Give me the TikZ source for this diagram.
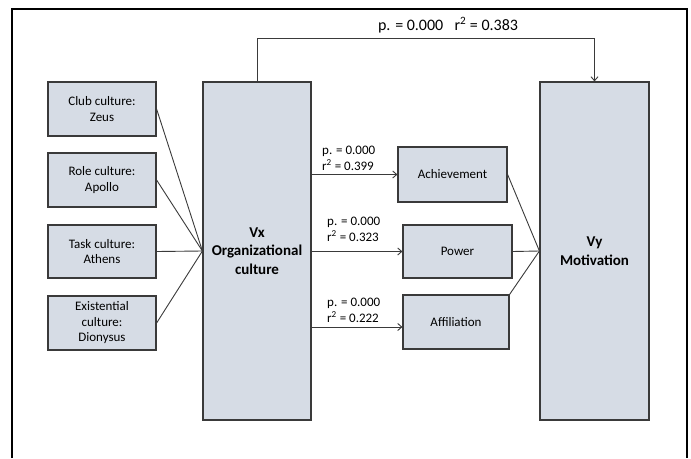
\documentclass[tikz,border=0pt]{standalone}
\usepackage{fontspec}
\setmainfont{Carlito}
\usetikzlibrary{arrows.meta}
\definecolor{boxfill}{HTML}{D6DCE5}
\definecolor{edge}{HTML}{3A3A3A}
\begin{document}
\begin{tikzpicture}[x=1pt,y=-1pt,
  box/.style={draw=edge, line width=1.2pt, fill=boxfill, align=center, inner sep=0pt,
    font=\fontsize{13}{15.5}\selectfont},
  bigbox/.style={box, font=\fontsize{15}{18.5}\selectfont\bfseries},
  conn/.style={draw=edge, line width=0.9pt},
  arrowline/.style={conn, -{Straight Barb[length=4pt,width=7pt]}},
  stat/.style={align=left, inner sep=0pt, anchor=west, font=\fontsize{13}{16}\selectfont}]
\useasboundingbox (0,0) rectangle (691,458);

% outer frame (open at the bottom)
\draw[black, line width=1.4pt] (12,458) -- (12,9) -- (687,9) -- (687,458);

% culture types
\node[box, minimum width=108pt, minimum height=54pt] (club) at (102,109) {Club culture:\\Zeus};
\node[box, minimum width=108pt, minimum height=54pt] (role) at (102,180) {Role culture:\\Apollo};
\node[box, minimum width=108pt, minimum height=53pt] (task) at (102,251.5) {Task culture:\\Athens};
\node[box, minimum width=108pt, minimum height=54pt] (exist) at (102,323) {Existential\\culture:\\Dionysus};

% main variables
\node[bigbox, minimum width=108pt, minimum height=338pt] (vx) at (257,251) {Vx\\Organizational\\culture};
\node[bigbox, minimum width=109pt, minimum height=338pt] (vy) at (594.5,251) {Vy\\Motivation};

% motivation components
\node[box, minimum width=109pt, minimum height=55pt] (ach) at (452.5,174.5) {Achievement};
\node[box, minimum width=109pt, minimum height=53pt] (pow) at (457.5,251.5) {Power};
\node[box, minimum width=106pt, minimum height=54pt] (aff) at (456,322) {Affiliation};

% culture types into Vx
\foreach \n in {club,role,task,exist}
  \draw[conn] (\n.east) -- (vx.west);

% components into Vy
\draw[conn] (ach.east) -- (vy.west);
\draw[conn] (pow.east) -- (vy.west);
\draw[conn] (aff.north east) -- (vy.west);

% Vx to components
\coordinate (affin) at ([yshift=-5pt]aff.west);
\draw[arrowline] (vx.east |- ach.west) -- (ach.west);
\draw[arrowline] (vx.east |- pow.west) -- (pow.west);
\draw[arrowline] (vx.east |- affin) -- (affin);

\node[stat] (s1) at (322,158) {p. = 0.000\\r\textsuperscript{2} = 0.399};
\node[stat] (s2) at (327,229) {p. = 0.000\\r\textsuperscript{2} = 0.323};
\node[stat] (s3) at (327,310) {p. = 0.000\\r\textsuperscript{2} = 0.222};

% direct path Vx to Vy
\draw[arrowline] (vx.north) -- ++(0,-43) -| (vy.north);
\node[font=\fontsize{16}{19}\selectfont, inner sep=0pt] (top) at (448,25) {p. = 0.000\hspace{0.7em}r\textsuperscript{2} = 0.383};
\end{tikzpicture}
\end{document}
